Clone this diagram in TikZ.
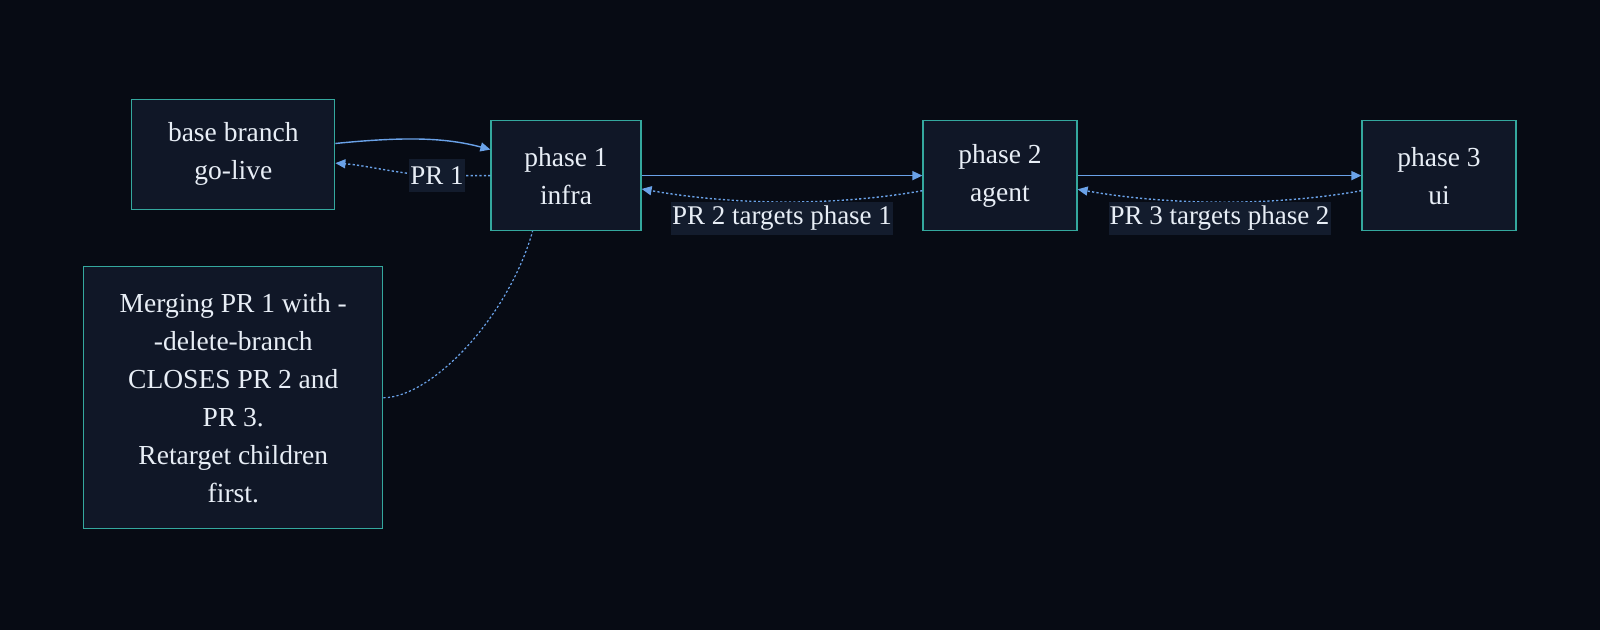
\documentclass[tikz,border=0pt]{standalone}
\usepackage{fontspec}
\setmainfont{Liberation Serif}
\usetikzlibrary{arrows.meta}
\definecolor{bg}{HTML}{070B14}
\definecolor{nodebg}{HTML}{101727}
\definecolor{teal1}{HTML}{34A89E}
\definecolor{edgec}{HTML}{6AA2E8}
\definecolor{lblbg}{HTML}{131C2D}
\definecolor{txt}{HTML}{E8EEF6}
\tikzset{
  box/.style={draw=teal1, fill=nodebg, line width=1.2pt, text=txt, align=center,
    inner sep=0pt, font=\fontsize{27.5}{38}\selectfont},
  lbl/.style={fill=lblbg, text=txt, inner xsep=1pt, inner ysep=0pt, minimum height=33pt,
    font=\fontsize{27}{38}\selectfont},
  solidedge/.style={draw=edgec, line width=1.4pt, -{Triangle[length=10pt,width=9pt]}},
  dotedge/.style={draw=edgec, line width=1.4pt, dash pattern=on 2.2pt off 2.2pt,
    -{Triangle[length=10pt,width=9pt]}},
  dotlink/.style={draw=edgec, line width=1.2pt, dash pattern=on 2.2pt off 2.2pt}
}
\begin{document}
\begin{tikzpicture}[x=1pt,y=-1pt]
\useasboundingbox[fill=bg] (0,0) rectangle (1600,630);

\node[box, minimum width=203pt, minimum height=110pt] (base) at (233.3,154.2) {base branch\\go-live};
\node[box, minimum width=150pt, minimum height=110pt] (p1) at (566,175.6) {phase 1\\infra};
\node[box, minimum width=154pt, minimum height=110pt] (p2) at (1000,175.6) {phase 2\\agent};
\node[box, minimum width=154pt, minimum height=110pt] (p3) at (1439,175.6) {phase 3\\ui};
\node[box, minimum width=299pt, minimum height=262pt] (note) at (233.3,397.7)
  {Merging PR 1 with -\\-delete-branch\\CLOSES PR 2 and\\PR 3.\\Retarget children\\first.};

% base -> phase 1
\draw[solidedge] (base.6) .. controls +(70,-7) and +(-45,-12) .. (p1.161);
% phase 1 -> base (PR 1)
\coordinate (lp1) at (437,175.6);
\draw[dotedge] (p1.west) -- (lp1) .. controls +(-30,0) and +(30,2) .. (base.-5);
\node[lbl] (l1) at (lp1) {PR 1};

% phase 1 -> phase 2, phase 2 -> phase 3
\draw[solidedge] (p1.east) -- (p2.west);
\draw[solidedge] (p2.east) -- (p3.west);

% PR 2 / PR 3 back links
\draw[dotedge] (p2.-169) .. controls +(-90,16) and +(90,16) .. (p1.-10)
  node[lbl, midway, anchor=north, yshift=1pt] (l2) {PR 2 targets phase 1};
\draw[dotedge] (p3.-169) .. controls +(-90,16) and +(90,16) .. (p2.-10)
  node[lbl, midway, anchor=north, yshift=1pt] (l3) {PR 3 targets phase 2};

% note link
\draw[dotlink] (note.east) .. controls +(47,0) and +(-25,88) .. (p1.-121);
\end{tikzpicture}
\end{document}
